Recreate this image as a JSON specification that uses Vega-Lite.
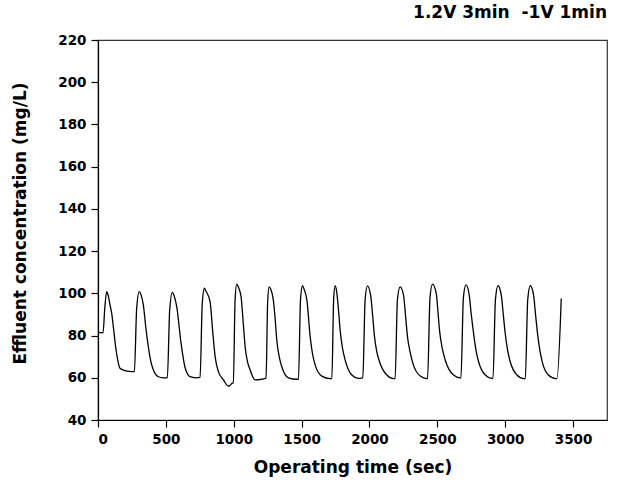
{
  "$schema": "https://vega.github.io/schema/vega-lite/v6.json",
  "width": 509,
  "height": 380,
  "autosize": {"type": "none"},
  "padding": {"left": 98, "top": 40, "right": 12, "bottom": 62},
  "background": "white",
  "title": {
    "text": "1.2V 3min\u00a0 -1V 1min",
    "anchor": "end",
    "font": "DejaVu Sans",
    "fontWeight": "bold",
    "fontSize": 17,
    "color": "black",
    "offset": 11
  },
  "config": {
    "view": {"stroke": "#333", "strokeWidth": 1.2},
    "axis": {
      "grid": false,
      "domainColor": "black",
      "domainWidth": 1.2,
      "tickColor": "black",
      "tickSize": 7,
      "tickWidth": 1.2,
      "labelFont": "DejaVu Sans",
      "labelFontWeight": "bold",
      "labelFontSize": 13.5,
      "labelColor": "black",
      "labelPadding": 5,
      "titleFont": "DejaVu Sans",
      "titleFontWeight": "bold",
      "titleFontSize": 17,
      "titleColor": "black"
    }
  },
  "data": {
    "values": [
      {"t": 0, "c": 81.5}, {"t": 37, "c": 81.3}, {"t": 50, "c": 93}, {"t": 64, "c": 100.8}, {"t": 75, "c": 99}, {"t": 90, "c": 94}, {"t": 101, "c": 90.5}, {"t": 115, "c": 83}, {"t": 130, "c": 74.7}, {"t": 145, "c": 68.5}, {"t": 162, "c": 64.5}, {"t": 199, "c": 63.4}, {"t": 230, "c": 63}, {"t": 268, "c": 62.9},
      {"t": 285, "c": 93}, {"t": 304, "c": 100.8}, {"t": 316, "c": 99.5}, {"t": 334, "c": 94.5}, {"t": 352, "c": 84}, {"t": 371, "c": 74.7}, {"t": 390, "c": 67.5}, {"t": 408, "c": 63.7}, {"t": 445, "c": 60.5}, {"t": 480, "c": 60}, {"t": 511, "c": 60},
      {"t": 528, "c": 92}, {"t": 548, "c": 100.5}, {"t": 560, "c": 99}, {"t": 580, "c": 93.7}, {"t": 612, "c": 76.3}, {"t": 641, "c": 65}, {"t": 678, "c": 60.5}, {"t": 720, "c": 60}, {"t": 752, "c": 60.2},
      {"t": 768, "c": 95}, {"t": 784, "c": 102.4}, {"t": 796, "c": 101}, {"t": 826, "c": 96}, {"t": 845, "c": 82}, {"t": 863, "c": 70}, {"t": 887, "c": 62.9}, {"t": 924, "c": 59}, {"t": 961, "c": 56.1}, {"t": 975, "c": 56.5}, {"t": 986, "c": 57.4}, {"t": 997, "c": 57.5},
      {"t": 1010, "c": 97}, {"t": 1022, "c": 104.4}, {"t": 1034, "c": 103}, {"t": 1054, "c": 98.4}, {"t": 1070, "c": 86}, {"t": 1084, "c": 74.7}, {"t": 1100, "c": 68}, {"t": 1121, "c": 63.7}, {"t": 1157, "c": 59}, {"t": 1207, "c": 59.3}, {"t": 1238, "c": 59.8},
      {"t": 1250, "c": 96}, {"t": 1261, "c": 103.1}, {"t": 1272, "c": 102}, {"t": 1292, "c": 96.8}, {"t": 1305, "c": 88}, {"t": 1317, "c": 77.9}, {"t": 1335, "c": 70}, {"t": 1354, "c": 65.2}, {"t": 1403, "c": 60}, {"t": 1465, "c": 59.3}, {"t": 1477, "c": 59.3},
      {"t": 1492, "c": 97}, {"t": 1506, "c": 103.6}, {"t": 1518, "c": 102}, {"t": 1539, "c": 96.8}, {"t": 1563, "c": 79.5}, {"t": 1580, "c": 71.5}, {"t": 1600, "c": 66}, {"t": 1649, "c": 60.8}, {"t": 1710, "c": 59.6}, {"t": 1723, "c": 59.6},
      {"t": 1736, "c": 97}, {"t": 1747, "c": 103.6}, {"t": 1760, "c": 100}, {"t": 1772, "c": 92}, {"t": 1784, "c": 82.6}, {"t": 1800, "c": 74.5}, {"t": 1821, "c": 68.4}, {"t": 1870, "c": 61.3}, {"t": 1919, "c": 59.7}, {"t": 1951, "c": 60},
      {"t": 1968, "c": 97}, {"t": 1985, "c": 103.5}, {"t": 2010, "c": 98.4}, {"t": 2024, "c": 89}, {"t": 2037, "c": 79.5}, {"t": 2055, "c": 72}, {"t": 2074, "c": 67.6}, {"t": 2128, "c": 61.3}, {"t": 2177, "c": 59.6}, {"t": 2189, "c": 59.6},
      {"t": 2206, "c": 97}, {"t": 2226, "c": 103.1}, {"t": 2251, "c": 99.2}, {"t": 2265, "c": 90}, {"t": 2280, "c": 79.5}, {"t": 2300, "c": 72}, {"t": 2320, "c": 66.8}, {"t": 2374, "c": 60.8}, {"t": 2423, "c": 59.6}, {"t": 2428, "c": 59.6},
      {"t": 2446, "c": 98}, {"t": 2464, "c": 104.4}, {"t": 2492, "c": 100}, {"t": 2505, "c": 91}, {"t": 2516, "c": 82.6}, {"t": 2536, "c": 74}, {"t": 2558, "c": 68.4}, {"t": 2619, "c": 61.3}, {"t": 2669, "c": 60}, {"t": 2674, "c": 60},
      {"t": 2692, "c": 98}, {"t": 2711, "c": 104}, {"t": 2735, "c": 99.2}, {"t": 2750, "c": 90}, {"t": 2767, "c": 81.1}, {"t": 2785, "c": 73}, {"t": 2804, "c": 67.6}, {"t": 2853, "c": 61.3}, {"t": 2902, "c": 59.7}, {"t": 2910, "c": 59.7},
      {"t": 2928, "c": 97}, {"t": 2947, "c": 103.6}, {"t": 2971, "c": 99.2}, {"t": 2986, "c": 90}, {"t": 3000, "c": 81.1}, {"t": 3018, "c": 73}, {"t": 3037, "c": 67.6}, {"t": 3087, "c": 61.3}, {"t": 3135, "c": 59.6}, {"t": 3148, "c": 59.6},
      {"t": 3166, "c": 97}, {"t": 3185, "c": 103.6}, {"t": 3209, "c": 99.2}, {"t": 3225, "c": 89}, {"t": 3241, "c": 79.5}, {"t": 3258, "c": 72}, {"t": 3276, "c": 66.8}, {"t": 3318, "c": 61.3}, {"t": 3374, "c": 59.6}, {"t": 3381, "c": 59.6},
      {"t": 3413, "c": 97.6}
    ]
  },
  "mark": {"type": "line", "color": "black", "strokeWidth": 1.3, "interpolate": "monotone"},
  "encoding": {
    "x": {
      "field": "t",
      "type": "quantitative",
      "scale": {"domain": [0, 3750], "nice": false, "zero": false},
      "axis": {"values": [0, 500, 1000, 1500, 2000, 2500, 3000, 3500], "format": "d", "title": "Operating time (sec)", "titlePadding": 14}
    },
    "y": {
      "field": "c",
      "type": "quantitative",
      "scale": {"domain": [40, 220], "nice": false, "zero": false},
      "axis": {"values": [40, 60, 80, 100, 120, 140, 160, 180, 200, 220], "format": "d", "title": "Effluent concentration (mg/L)", "titlePadding": 28, "titleY": 183}
    }
  }
}
